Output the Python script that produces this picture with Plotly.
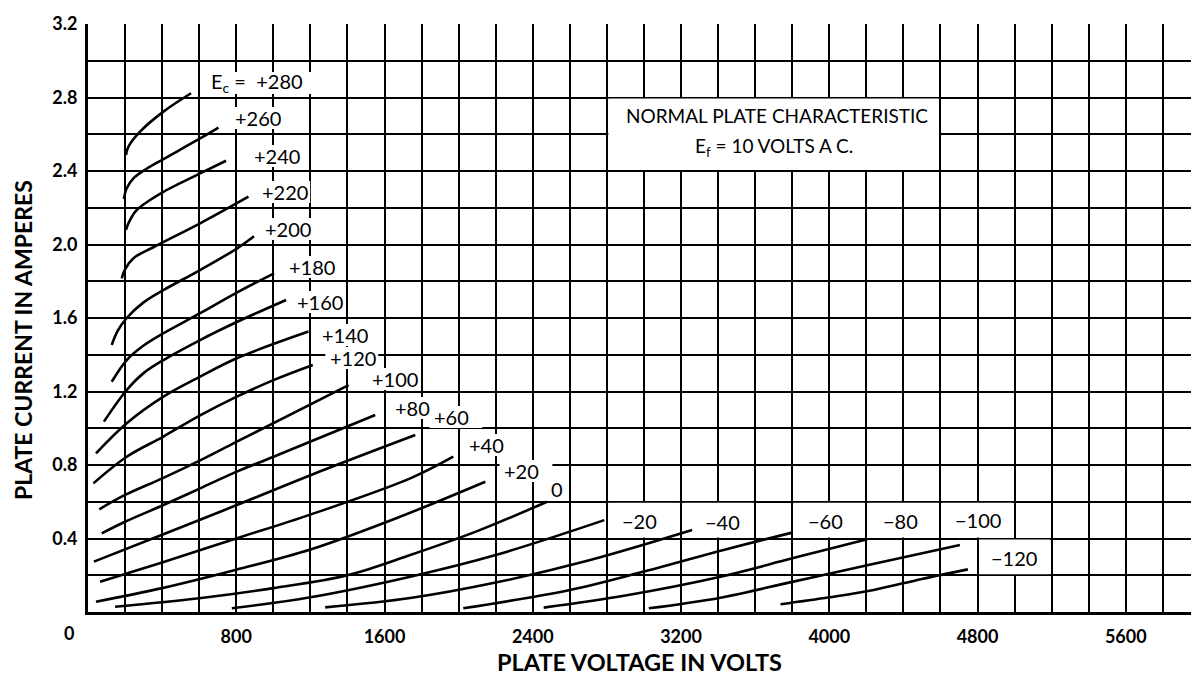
import plotly.graph_objects as go

# ---------------- data ----------------
grid_volts = [280, 260, 240, 220, 200, 180, 160, 140, 120, 100, 80, 60, 40, 20,
              0, -20, -40, -60, -80, -100, -120]

v_280 = [205, 218, 281, 407, 556]
i_280 = [2.487, 2.532, 2.614, 2.723, 2.823]
v_260 = [194, 209, 250, 320, 407, 605, 704]
i_260 = [2.248, 2.306, 2.365, 2.415, 2.465, 2.577, 2.636]
v_240 = [205, 220, 260, 335, 407, 605, 745]
i_240 = [2.079, 2.12, 2.185, 2.242, 2.287, 2.387, 2.456]
v_220 = [182, 200, 245, 353, 605, 866]
i_220 = [1.816, 1.865, 1.925, 1.985, 2.115, 2.26]
v_200 = [128, 160, 209, 300, 407, 605, 803, 896]
i_200 = [1.453, 1.53, 1.60, 1.685, 1.752, 1.861, 1.978, 2.045]
v_180 = [128, 209, 300, 407, 605, 803, 1004]
i_180 = [1.253, 1.371, 1.45, 1.517, 1.626, 1.738, 1.843]
v_160 = [86, 209, 300, 407, 605, 803, 1069]
i_160 = [1.036, 1.208, 1.30, 1.371, 1.480, 1.578, 1.698]
v_140 = [43, 209, 407, 605, 803, 1190]
i_140 = [0.863, 1.027, 1.172, 1.281, 1.381, 1.526]
v_120 = [29, 209, 407, 605, 803, 1004, 1213]
i_120 = [0.70, 0.845, 0.955, 1.070, 1.172, 1.263, 1.344]
v_100 = [61, 200, 407, 605, 803, 1406]
i_100 = [0.559, 0.637, 0.730, 0.825, 0.927, 1.235]
v_80 = [74, 200, 407, 605, 803, 1001, 1550]
i_80 = [0.428, 0.491, 0.582, 0.673, 0.764, 0.845, 1.072]
v_60 = [32, 407, 803, 1204, 1766]
i_60 = [0.274, 0.423, 0.582, 0.746, 0.963]
v_40 = [65, 400, 800, 1200, 1739, 1971]
i_40 = [0.165, 0.27, 0.40, 0.53, 0.727, 0.845]
v_20 = [43, 400, 800, 1200, 1685, 2144]
i_20 = [0.056, 0.13, 0.23, 0.34, 0.519, 0.709]
v_0 = [146, 600, 1000, 1400, 1739, 2100, 2477]
i_0 = [0.029, 0.075, 0.13, 0.20, 0.31, 0.44, 0.60]
v_m20 = [776, 1200, 1739, 2200, 2786]
i_m20 = [0.02, 0.08, 0.192, 0.31, 0.50]
v_m40 = [1280, 1739, 2200, 2700, 3260]
i_m40 = [0.025, 0.076, 0.16, 0.28, 0.446]
v_m60 = [2025, 2600, 3000, 3440, 3800]
i_m60 = [0.02, 0.12, 0.22, 0.34, 0.432]
v_m80 = [2459, 2900, 3413, 3800, 4205]
i_m80 = [0.024, 0.09, 0.192, 0.292, 0.396]
v_m100 = [3026, 3413, 3800, 4205, 4705]
i_m100 = [0.02, 0.078, 0.164, 0.254, 0.365]
v_m120 = [3737, 4000, 4240, 4500, 4748]
i_m120 = [0.042, 0.08, 0.12, 0.18, 0.232]

curve_v = [v_280, v_260, v_240, v_220, v_200, v_180, v_160, v_140, v_120, v_100,
           v_80, v_60, v_40, v_20, v_0, v_m20, v_m40, v_m60, v_m80, v_m100, v_m120]
curve_i = [i_280, i_260, i_240, i_220, i_200, i_180, i_160, i_140, i_120, i_100,
           i_80, i_60, i_40, i_20, i_0, i_m20, i_m40, i_m60, i_m80, i_m100, i_m120]

# label anchor points (left edge / middle of each label)
label_v = [653, 783, 886, 929, 945, 1075, 1118, 1253, 1296, 1523, 1647, 1858, 2047,
           2236, 2489, 2873, 3321, 3872, 4277, 4666, 4860]
label_i = [2.879, 2.688, 2.482, 2.286, 2.084, 1.878, 1.687, 1.507, 1.382, 1.268,
           1.110, 1.061, 0.909, 0.767, 0.669, 0.495, 0.490, 0.495, 0.495, 0.50, 0.294]

x_tick_vals = [800, 1600, 2400, 3200, 4000, 4800, 5600]
x_tick_text = ["800", "1600", "2400", "3200", "4000", "4800", "5600"]
y_tick_vals = [0.4, 0.8, 1.2, 1.6, 2.0, 2.4, 2.8, 3.2]
y_tick_text = ["0.4", "0.8", "1.2", "1.6", "2.0", "2.4", "2.8", "3.2"]

# white label areas that interrupt the grid (V0, V1, I0, I1)
blank_boxes = [
    (2800, 4600, 2.4, 2.8),
    (2800, 3200, 0.4, 0.6),
    (3200, 3600, 0.4, 0.6),
    (3800, 4200, 0.4, 0.6),
    (4200, 4600, 0.4, 0.6),
    (4600, 5000, 0.4, 0.6),
    (4800, 5200, 0.2, 0.4),
]

FONT = "Lato"

fig = go.Figure()
for v, i in zip(curve_v, curve_i):
    fig.add_trace(go.Scatter(x=v, y=i, mode="lines",
                             line=dict(color="black", width=2.6, shape="spline", smoothing=1.0),
                             hoverinfo="skip", showlegend=False))


def fmt(g):
    if g > 0:
        return "+%d" % g
    if g < 0:
        return "\u2212%d" % (-g)
    return "0"


shapes = []
for k, (g, lv, li) in enumerate(zip(grid_volts, label_v, label_i)):
    txt = fmt(g)
    if k == 0:
        txt = "E<sub>c</sub> =  " + txt
    fig.add_annotation(x=lv, y=li, xref="x", yref="y", text=txt, showarrow=False,
                       xanchor="left", yanchor="middle",
                       font=dict(family=FONT, size=20, color="black"))
    if g > 0:
        w = 50 * 5.4 if k else 105 * 5.4
        shapes.append(dict(type="rect", xref="x", yref="y", layer="between",
                           x0=lv - 15, x1=lv + w, y0=li - 0.06, y1=li + 0.06,
                           fillcolor="white", line=dict(width=0)))

for (a, b, c, d) in blank_boxes:
    shapes.append(dict(type="rect", xref="x", yref="y", layer="between",
                       x0=a + 8, x1=b - 8, y0=c + 0.006, y1=d - 0.006,
                       fillcolor="white", line=dict(width=0)))

fig.add_annotation(x=3720, y=2.7, xref="x", yref="y", showarrow=False,
                   text="NORMAL PLATE CHARACTERISTIC",
                   font=dict(family=FONT, size=19, color="black"))
fig.add_annotation(x=3700, y=2.53, xref="x", yref="y", showarrow=False,
                   text="E<sub>f</sub> = 10 VOLTS A C.",
                   font=dict(family=FONT, size=19, color="black"))

fig.add_annotation(x=0, y=0, xref="x", yref="y", showarrow=False, text="0",
                   xshift=-19, yshift=-21,
                   font=dict(family=FONT, size=18, color="black", weight="bold"))

# y-axis title (placed as annotation to match the reference's vertical position)
fig.add_annotation(x=0, xref="paper", xshift=-65, y=1.48, yref="y", showarrow=False,
                   xanchor="center", yanchor="middle",
                   text="PLATE CURRENT IN AMPERES", textangle=-90,
                   font=dict(family=FONT, size=23, color="black", weight="bold"))

fig.update_layout(
    width=1191, height=676,
    margin=dict(l=88, r=0, t=24, b=64, autoexpand=False),
    paper_bgcolor="white", plot_bgcolor="white",
    shapes=shapes,
    xaxis=dict(range=[0, 5952], tickvals=x_tick_vals, ticktext=x_tick_text,
               automargin=False,
               showgrid=True, gridcolor="black", gridwidth=2,
               minor=dict(dtick=200, tick0=0, showgrid=True, gridcolor="black", gridwidth=2),
               showline=True, linecolor="black", linewidth=3, zeroline=False,
               ticks="", ticklabelstandoff=6,
               tickfont=dict(family=FONT, size=18, color="black", weight="bold"),
               title=dict(text="PLATE VOLTAGE IN VOLTS", standoff=14,
                          font=dict(family=FONT, size=23.5, color="black", weight="bold"))),
    yaxis=dict(range=[0, 3.2], tickvals=y_tick_vals, ticktext=y_tick_text,
               automargin=False,
               showgrid=True, gridcolor="black", gridwidth=2,
               minor=dict(dtick=0.2, tick0=0, showgrid=True, gridcolor="black", gridwidth=2),
               showline=True, linecolor="black", linewidth=3, zeroline=False,
               ticks="", ticklabelstandoff=4,
               tickfont=dict(family=FONT, size=18, color="black", weight="bold")),
)

fig.write_html("out.html", config={"displayModeBar": False},
               post_script="document.body.style.margin='0';document.body.style.overflow='hidden';")
